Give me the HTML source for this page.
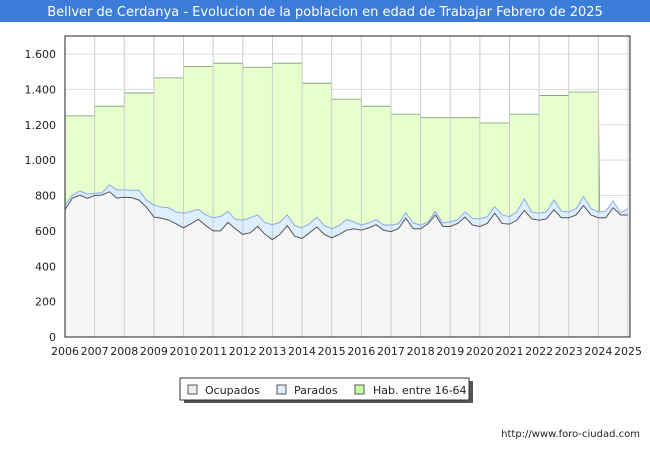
<!DOCTYPE html>
<html><head><meta charset="utf-8"><style>
body{margin:0;width:650px;height:450px;background:#fff;font-family:"Liberation Sans","DejaVu Sans",sans-serif;overflow:hidden}
</style></head><body>
<svg id="c" width="650" height="450" xmlns="http://www.w3.org/2000/svg" style="font-family:'DejaVu Sans','Liberation Sans',sans-serif">
<rect x="0" y="0" width="650" height="22" fill="#3b7dd8"/>
<text x="325" y="16" text-anchor="middle" font-size="13" fill="#fff">Bellver de Cerdanya - Evolucion de la poblacion en edad de Trabajar Febrero de 2025</text>
<g id="plot"></g>
<g>
<rect x="184" y="381" width="289" height="22" fill="#555"/>
<rect x="180" y="378" width="289" height="22" fill="#fff" stroke="#333"/>
<rect x="188" y="385" width="9" height="9" fill="#eee" stroke="#555"/>
<text x="205" y="394" font-size="11" fill="#222">Ocupados</text>
<rect x="277" y="385" width="9" height="9" fill="#ddeeff" stroke="#555"/>
<text x="294" y="394" font-size="11" fill="#222">Parados</text>
<rect x="355" y="385" width="9" height="9" fill="#ccffaa" stroke="#555"/>
<text x="373" y="394" font-size="11" fill="#222">Hab. entre 16-64</text>
</g>
<text x="640" y="437" text-anchor="end" font-size="10" fill="#222">http://www.foro-ciudad.com</text>
</svg>
<script>
const years=[2006,2007,2008,2009,2010,2011,2012,2013,2014,2015,2016,2017,2018,2019,2020,2021,2022,2023,2024,2025];
const yTicks=[0,200,400,600,800,1000,1200,1400,1600];
const yTickLabels=["0","200","400","600","800","1.000","1.200","1.400","1.600"];
const habValues=[1250,1305,1380,1465,1530,1548,1525,1548,1435,1345,1305,1260,1240,1240,1210,1260,1365,1385];
const habLast=830;
// quarterly, starting 2006.0
const parados=[746,802,826,808, 813,816,859,832, 832,830,830,774, 746,734,730,707, 700,710,722,690, 674,682,710,665, 661,674,690,646, 635,648,690,630, 617,640,678,630, 612,630,665,651, 633,645,664,633, 633,640,702,645, 633,650,710,645, 651,664,707,670, 668,680,737,690, 680,707,781,707, 700,707,775,712, 707,725,795,725, 707,712,769,702, 725];
const ocupados=[721,785,802,784, 800,803,821,785, 790,788,774,734, 678,672,661,640, 617,640,665,630, 600,600,648,612, 580,589,625,580, 550,580,630,570, 557,589,622,580, 561,580,604,612, 604,617,635,604, 595,612,672,612, 612,640,690,625, 625,642,678,633, 625,642,700,642, 638,660,716,668, 660,668,720,674, 674,690,743,690, 674,674,731,690, 690];
const X0=65,X1=628,Y0=337,Y1=54;
const xs=t=>X0+(t-2006)*(X1-X0)/19;
const ys=v=>Y0-v*(Y0-Y1)/1600;
const NS="http://www.w3.org/2000/svg";
const g=document.getElementById('plot');
function mk(tag,attrs){const e=document.createElementNS(NS,tag);for(const k in attrs)e.setAttribute(k,attrs[k]);g.appendChild(e);return e;}
const bg=mk('rect',{x:X0,y:36,width:630-X0,height:Y0-36,fill:'#fff'});


// grid
yTicks.forEach((v,i)=>{
 const l=mk('line',{x1:X0,x2:630,y1:ys(v),y2:ys(v),stroke:'#ddd'});
 
 
 const t=mk('text',{x:X0-9,y:ys(v)+4,'text-anchor':'end','font-size':11,fill:'#222'});
 t.textContent=yTickLabels[i];
 
 
});
// hab area
let hp=`M${xs(2006)},${ys(0)}`;
habValues.forEach((v,i)=>{hp+=` L${xs(years[i])},${ys(v)} L${xs(years[i]+1)},${ys(v)}`;});
hp+=` L${xs(2024)+1},${ys(habLast)} L${xs(2024)+1},${ys(0)} Z`;
const ha=mk('path',{d:hp,fill:'#e6ffcc',stroke:'#7a9a6a','stroke-width':0.8});


function linePath(arr){return arr.map((v,i)=>(i?'L':'M')+xs(2006+i/4)+','+ys(v)).join(' ');}
const n=parados.length;
const pa=mk('path',{d:linePath(parados)+` L${xs(2006+(n-1)/4)},${ys(0)} L${xs(2006)},${ys(0)} Z`,fill:'#ddeeff'});


const oa=mk('path',{d:linePath(ocupados)+` L${xs(2006+(ocupados.length-1)/4)},${ys(0)} L${xs(2006)},${ys(0)} Z`,fill:'#f5f5f5'});


years.forEach(yr=>{
 const l=mk('line',{x1:xs(yr),x2:xs(yr),y1:36,y2:Y0,stroke:'#ccc'});
 
 
 const t=mk('text',{x:xs(yr),y:355,'text-anchor':'middle','font-size':11,fill:'#222'});
 t.textContent=yr;
 
 
});
const pl=mk('path',{d:linePath(parados),fill:'none',stroke:'#88aaee','stroke-width':1});


const ol=mk('path',{d:linePath(ocupados),fill:'none',stroke:'#555','stroke-width':1});


const fr=mk('rect',{x:X0,y:36,width:630-X0,height:Y0-36,fill:'none',stroke:'#222'});


</script>
</body></html>
